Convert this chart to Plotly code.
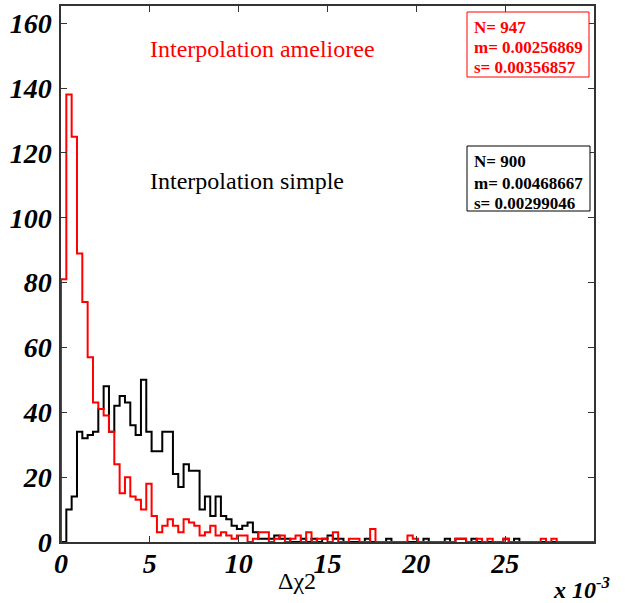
import numpy as np
import plotly.graph_objects as go

# ---- data ----
x_min, x_max, n_bins = 0.0, 0.03, 100
counts_ameliore = [
    81, 138, 125, 89, 74, 57, 43, 41, 39, 34,
    24, 15, 20, 14, 13, 10, 18, 8, 3, 5,
    7, 5, 3, 7, 6, 5, 2, 3, 5, 2,
    3, 2, 1, 2, 2, 0, 1, 3, 3, 0,
    1, 2, 0, 1, 2, 0, 3, 0, 1, 1,
    0, 3, 0, 0, 1, 1, 0, 0, 4, 0,
    0, 0, 0, 0, 0, 2, 1, 0, 0, 0,
    0, 0, 0, 0, 1, 1, 0, 0, 1, 0,
    1, 0, 0, 1, 0, 0, 0, 0, 0, 0,
    1, 0, 1, 0, 0, 0, 0, 0, 0, 0,
]
counts_simple = [
    0, 10, 14, 34, 32, 33, 34, 41, 48, 34,
    42, 45, 43, 36, 33, 50, 34, 28, 28, 34,
    34, 21, 17, 24, 22, 22, 10, 14, 8, 14,
    8, 7, 5, 4, 5, 6, 3, 1, 1, 1,
    2, 1, 1, 0, 0, 1, 0, 1, 0, 1,
    2, 1, 1, 0, 0, 0, 0, 1, 0, 0,
    0, 1, 0, 0, 0, 0, 0, 0, 1, 0,
    0, 0, 1, 0, 1, 1, 0, 1, 0, 0,
    0, 0, 0, 1, 0, 1, 0, 0, 0, 0,
    0, 0, 0, 0, 0, 0, 0, 0, 0, 0,
]
x_tick_vals = [0, 0.005, 0.010, 0.015, 0.020, 0.025]
x_tick_text = ["0", "5", "10", "15", "20", "25"]
y_tick_vals = [0, 20, 40, 60, 80, 100, 120, 140, 160]
stats_ameliore = ["N= 947", "m= 0.00256869", "s= 0.00356857"]
stats_simple = ["N= 900", "m= 0.00468667", "s= 0.00299046"]
label_ameliore = "Interpolation amelioree"
label_simple = "Interpolation simple"

edges = np.linspace(x_min, x_max, n_bins + 1)


def step_xy(counts):
    xs = [edges[0]] + list(edges[:-1]) + [edges[-1]]
    ys = [0] + list(counts) + [0]
    return xs, ys


fig = go.Figure()
for counts, color in [(counts_simple, "black"), (counts_ameliore, "#ff0000")]:
    xs, ys = step_xy(counts)
    fig.add_trace(go.Scatter(x=xs, y=ys, mode="lines",
                             line=dict(shape="hv", color=color, width=2),
                             showlegend=False, hoverinfo="skip"))

SERIF = "Liberation Serif"
tickfont = dict(family=SERIF, size=28, color="black", weight="bold", style="italic")
axis_common = dict(showline=True, linecolor="#333", linewidth=1.5, mirror="ticks",
                   ticks="inside", ticklen=6, tickwidth=1.2, tickcolor="#333",
                   showgrid=False, zeroline=False, tickfont=tickfont, automargin=False)

L, R, T, B = 61, 31, 6, 61
W, H = 625, 603
PW, PH = W - L - R, H - T - B

fig.update_layout(
    width=W, height=H,
    margin=dict(l=L, r=R, t=T, b=B),
    paper_bgcolor="white", plot_bgcolor="white",
    xaxis=dict(range=[x_min, x_max], tickvals=x_tick_vals, ticktext=x_tick_text,
               ticklabelstandoff=-4, **axis_common),
    yaxis=dict(range=[0, 165.3], tickvals=y_tick_vals, ticklabelstandoff=2, **axis_common),
)


def pp(px, py):
    return (px - L) / PW, (H - B - py) / PH


for txt, color, (px, py) in [(label_ameliore, "#ff0000", (148, 49)),
                             (label_simple, "black", (148, 181))]:
    xp, yp = pp(px, py)
    fig.add_annotation(x=xp, y=yp, xref="paper", yref="paper", text=txt,
                       showarrow=False, xanchor="left", yanchor="middle",
                       font=dict(family=SERIF, size=24, color=color))

boxes = [
    (stats_ameliore, "#ff0000", (467, 12, 589, 77), [27, 48, 68]),
    (stats_simple, "black", (467, 146, 590, 211), [162, 183, 203]),
]
for stats, color, (x0, y0, x1, y1), line_ys in boxes:
    a0, b0 = pp(x0, y1)
    a1, b1 = pp(x1, y0)
    fig.add_shape(type="rect", xref="paper", yref="paper", x0=a0, y0=b0, x1=a1, y1=b1,
                  line=dict(color=color, width=1), fillcolor="white", layer="above")
    for s, ly in zip(stats, line_ys):
        xp, yp = pp(472, ly)
        fig.add_annotation(x=xp, y=yp, xref="paper", yref="paper", text=s,
                           showarrow=False, xanchor="left", yanchor="middle",
                           font=dict(family=SERIF, size=17, color=color, weight="bold"))

xp, yp = pp(297, 581)
fig.add_annotation(x=xp, y=yp, xref="paper", yref="paper",
                   text="Δχ2", showarrow=False, xanchor="center", yanchor="middle",
                   font=dict(family=SERIF, size=24, color="black"))
xp, yp = pp(612, 588)
fig.add_annotation(x=xp, y=yp, xref="paper", yref="paper",
                   text="x 10<sup>-3</sup>", showarrow=False, xanchor="right", yanchor="middle",
                   font=dict(family=SERIF, size=24, color="black", weight="bold", style="italic"))

fig.write_html("out.html", config={"displayModeBar": False},
               post_script="document.body.style.margin='0px';")
